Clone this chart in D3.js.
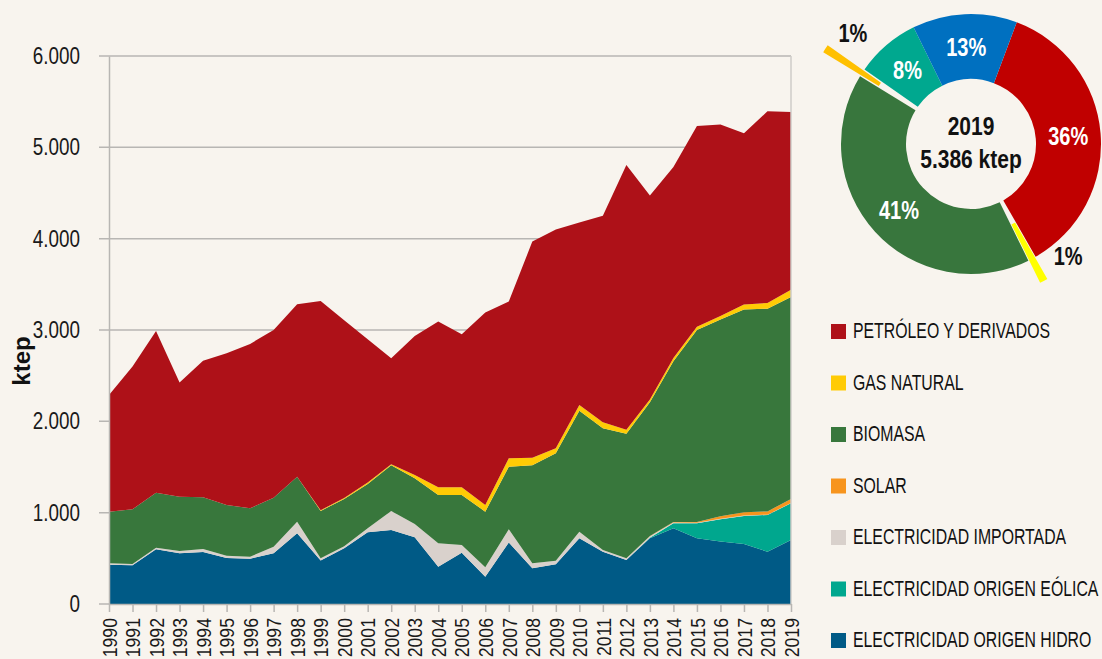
<!DOCTYPE html>
<html><head><meta charset="utf-8">
<script src="https://cdn.jsdelivr.net/npm/d3@7"></script>
<style>
html,body{margin:0;padding:0;background:#F8F4EE;}
svg{display:block;}
</style></head><body>
<svg id="chart" width="1102" height="659"></svg>
<script>
// ---------- DATA ----------
const years = [1990,1991,1992,1993,1994,1995,1996,1997,1998,1999,2000,2001,2002,2003,2004,2005,2006,2007,2008,2009,2010,2011,2012,2013,2014,2015,2016,2017,2018,2019];
const hidro     = [430,425,600,555,570,504,496,555,774,475,610,785,810,730,409,562,299,672,391,435,720,573,482,720,829,720,683,657,573,701];
const eolica    = [0,0,0,0,0,0,0,0,0,0,0,0,0,0,0,0,0,0,0,0,0,0,0,5,55,164,245,307,402,402];
const importada = [16,13,17,25,32,25,22,73,127,25,22,44,209,146,256,84,103,146,55,39,72,18,18,17,8,5,5,5,3,2];
const solar     = [0,0,0,0,0,0,0,0,0,0,0,0,0,0,0,0,0,0,0,0,0,0,2,3,5,10,29,36,36,44];
const biomasa   = [565,599,602,595,566,555,530,536,493,519,517,485,500,500,529,548,609,686,1073,1176,1325,1333,1362,1465,1760,2100,2154,2220,2220,2212];
const gas       = [0,0,0,0,0,0,0,0,0,8,12,15,11,37,84,84,73,92,81,55,63,66,44,29,37,37,36,55,62,80];
const petroleo  = [1278,1563,1771,1249,1494,1662,1800,1837,1888,2291,1946,1570,1161,1522,1814,1676,2107,1715,2368,2395,1997,2260,2899,2235,2092,2197,2099,1873,2099,1947];

const seriesKeys   = ["hidro","eolica","importada","solar","biomasa","gas","petroleo"];
const seriesLabels = {petroleo:"PETRÓLEO Y DERIVADOS", gas:"GAS NATURAL", biomasa:"BIOMASA", solar:"SOLAR",
  importada:"ELECTRICIDAD IMPORTADA", eolica:"ELECTRICIDAD ORIGEN EÓLICA", hidro:"ELECTRICIDAD ORIGEN HIDRO"};
const legendOrder = ["petroleo","gas","biomasa","solar","importada","eolica","hidro"];
const yTicks = [0,1000,2000,3000,4000,5000,6000];

// donut 2019 (percent shares)
const donutKeys   = ["petroleo","gas","biomasa","solar","eolica","hidro"];
const donutValues = [36,1,41,1,8,13];
const donutYear = "2019";
const donutTotal = "5.386 ktep";

// ---------- STYLE ----------
const areaColor = {petroleo:"#AE1118", gas:"#FFCB05", biomasa:"#38773C", solar:"#F7941D",
  importada:"#D9D1CC", eolica:"#00A78E", hidro:"#005A86"};
const donutColor = {petroleo:"#C00000", gas:"#FFFF00", biomasa:"#38763D", solar:"#FFC000",
  eolica:"#00A88F", hidro:"#0070C0"};
const FONT = "'Liberation Sans',Arial,sans-serif";
const gridCol = "#B8B6B3";

const svg = d3.select("#chart");
const X0 = 109, X1 = 791, Y0 = 604, Y1 = 56;

const x = d3.scaleLinear().domain([years[0], years[years.length-1]]).range([X0, X1]);
const y = d3.scaleLinear().domain([0, 6000]).range([Y0, Y1]);

const src = {hidro, eolica, importada, solar, biomasa, gas, petroleo};
const rows = years.map((yr, i) => {
  const r = {year: yr};
  seriesKeys.forEach(k => r[k] = src[k][i]);
  return r;
});

// gridlines
svg.append("g").selectAll("line").data(yTicks).join("line")
  .attr("x1", X0 - 10).attr("x2", X1)
  .attr("y1", d => y(d)).attr("y2", d => y(d))
  .attr("stroke", gridCol).attr("stroke-width", 1.5);

// areas
const stacked = d3.stack().keys(seriesKeys)(rows);
const area = d3.area()
  .x(d => x(d.data.year))
  .y0(d => y(d[0]))
  .y1(d => y(d[1]));
svg.append("g").selectAll("path").data(stacked).join("path")
  .attr("d", area)
  .attr("fill", d => areaColor[d.key]);

// right border
svg.append("line").attr("x1", X1).attr("x2", X1).attr("y1", Y1).attr("y2", Y0)
  .attr("stroke", "#CFCCC8").attr("stroke-width", 1.5);

// y axis
const loc = d3.formatLocale({decimal:",", thousands:".", grouping:[3], currency:["","€"]});
const fmt = loc.format(",.0f");
const yAxis = svg.append("g").attr("transform", `translate(${X0},0)`)
  .call(d3.axisLeft(y).tickValues(yTicks).tickFormat(fmt).tickSize(0).tickPadding(20));
yAxis.select(".domain").attr("stroke", gridCol).attr("stroke-width", 1.5);
yAxis.selectAll("text")
  .attr("font-family", FONT).attr("font-size", 23).attr("fill", "#1a1a1a")
  .attr("x", 0).attr("transform", "translate(-29,0) scale(0.82,1)");

// x axis
const xAxis = svg.append("g").attr("transform", `translate(0,${Y0})`)
  .call(d3.axisBottom(x).tickValues(years).tickFormat(d3.format("d")).tickSize(8).tickSizeOuter(0));
xAxis.select(".domain").attr("stroke", gridCol).attr("stroke-width", 1.5);
xAxis.selectAll(".tick line").attr("stroke", gridCol).attr("stroke-width", 1.5);
xAxis.selectAll("text")
  .attr("font-family", FONT).attr("font-size", 20).attr("fill", "#1a1a1a")
  .attr("transform", "rotate(-90) scale(0.88,1)")
  .attr("text-anchor", "end")
  .attr("x", -16).attr("y", 0).attr("dy", "0.36em");

// y label
svg.append("text").attr("transform", "translate(30,361) rotate(-90)")
  .attr("text-anchor", "middle")
  .attr("font-family", FONT).attr("font-weight", "bold").attr("font-size", 24).attr("fill", "#111")
  .text("ktep");

// legend
const lg = svg.append("g").selectAll("g").data(legendOrder).join("g")
  .attr("transform", (d, i) => `translate(831,${324 + i * 51.5})`);
lg.append("rect").attr("width", 15).attr("height", 15).attr("fill", d => areaColor[d]);
lg.append("text").attr("transform", "translate(22,14) scale(0.72,1)")
  .attr("font-family", FONT).attr("font-size", 22).attr("fill", "#111")
  .text(d => seriesLabels[d]);

// donut
const cx = 971, cy = 144, rIn = 65, rOut = 130;
const startA = 20.6 * Math.PI / 180;
const pie = d3.pie().sort(null).value(d => d.value).startAngle(startA).endAngle(startA + 2 * Math.PI);
const arcData = pie(donutValues.map((v, i) => ({key: donutKeys[i], value: v})));
const arcGen = d3.arc().innerRadius(rIn).outerRadius(rOut);
const explode = {gas: 25, solar: 44};
const dg = svg.append("g").attr("transform", `translate(${cx},${cy})`);
dg.selectAll("path").data(arcData).join("path")
  .attr("d", arcGen)
  .attr("fill", d => donutColor[d.data.key])
  .attr("transform", d => {
    const off = explode[d.data.key] || 0;
    const m = (d.startAngle + d.endAngle) / 2;
    return `translate(${off * Math.sin(m)},${-off * Math.cos(m)})`;
  });
const smallLabel = {gas: {r: 148, da: -13}, solar: {r: 162, da: 10}};
dg.selectAll("text.pct").data(arcData).join("text").attr("class", "pct")
  .attr("transform", d => {
    const s = smallLabel[d.data.key];
    let p;
    if (s) {
      const m = (d.startAngle + d.endAngle) / 2 + s.da * Math.PI / 180;
      p = [s.r * Math.sin(m), -s.r * Math.cos(m)];
    } else p = arcGen.centroid(d);
    return `translate(${p[0]},${p[1]}) scale(0.8,1)`;
  })
  .attr("text-anchor", "middle").attr("dy", "0.36em")
  .attr("font-family", FONT).attr("font-weight", "bold").attr("font-size", 25)
  .attr("fill", d => smallLabel[d.data.key] ? "#111" : "#fff")
  .text(d => d.data.value + "%");
dg.append("text").attr("transform", "translate(0,-9) scale(0.84,1)").attr("text-anchor", "middle")
  .attr("font-family", FONT).attr("font-weight", "bold").attr("font-size", 25).attr("fill", "#111")
  .text(donutYear);
dg.append("text").attr("transform", "translate(0,24) scale(0.84,1)").attr("text-anchor", "middle")
  .attr("font-family", FONT).attr("font-weight", "bold").attr("font-size", 25).attr("fill", "#111")
  .text(donutTotal);
</script>
</body></html>
